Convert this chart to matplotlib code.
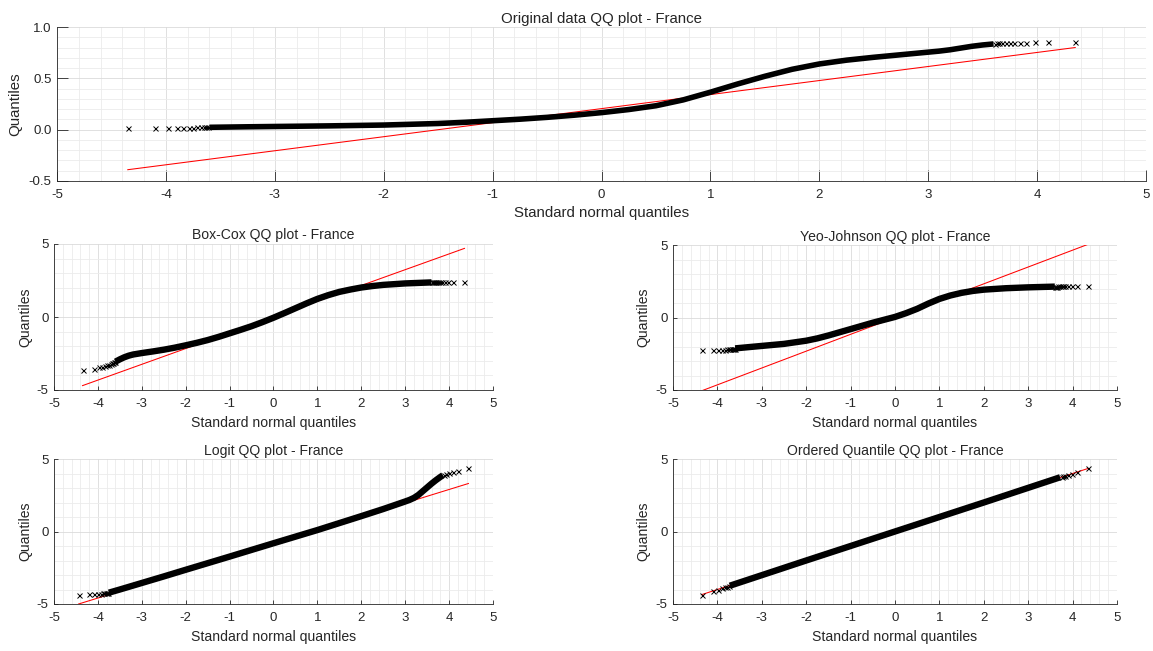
import matplotlib
matplotlib.use("Agg")
import matplotlib.pyplot as plt
from matplotlib.ticker import MultipleLocator, FormatStrFormatter

plt.rcParams["font.family"] = ["Liberation Sans", "DejaVu Sans"]
plt.rcParams["axes.unicode_minus"] = False

COUNTRY = "France"
X_LABEL = "Standard normal quantiles"
Y_LABEL = "Quantiles"

# ---------------- Original data ----------------
orig_body_x = [-3.60, -3.25, -3.00, -2.50, -2.00, -1.50, -1.25, -1.00, -0.75, -0.50,
               -0.25, 0.00, 0.25, 0.50, 0.75, 1.00, 1.25, 1.50, 1.75, 2.00,
               2.25, 2.50, 2.75, 3.00, 3.10, 3.20, 3.30, 3.40, 3.50, 3.60]
orig_body_y = [0.023, 0.028, 0.031, 0.037, 0.045, 0.060, 0.072, 0.087, 0.102, 0.120,
               0.141, 0.166, 0.196, 0.233, 0.290, 0.365, 0.445, 0.520, 0.588, 0.640,
               0.677, 0.705, 0.730, 0.755, 0.765, 0.778, 0.795, 0.812, 0.825, 0.835]
orig_lo_x = [-4.35, -4.10, -3.98, -3.90, -3.84, -3.79, -3.75, -3.71, -3.68, -3.65, -3.63, -3.61]
orig_lo_y = [0.020, 0.020, 0.020, 0.021, 0.021, 0.021, 0.021, 0.022, 0.022, 0.022, 0.022, 0.023]
orig_hi_x = [3.61, 3.63, 3.65, 3.68, 3.71, 3.75, 3.79, 3.84, 3.90, 3.98, 4.10, 4.35]
orig_hi_y = [0.838, 0.840, 0.842, 0.843, 0.845, 0.846, 0.847, 0.848, 0.849, 0.850, 0.851, 0.852]
orig_ref_x = [-4.35, 4.35]
orig_ref_y = [-0.39, 0.80]

# ---------------- Box-Cox ----------------
bc_body_x = [-3.60, -3.50, -3.40, -3.30, -3.20, -3.00, -2.75, -2.50, -2.25, -2.00,
             -1.75, -1.50, -1.25, -1.00, -0.75, -0.50, -0.25, 0.00, 0.25, 0.50,
             0.75, 1.00, 1.25, 1.50, 1.75, 2.00, 2.25, 2.50, 3.00, 3.60]
bc_body_y = [-3.06, -2.90, -2.76, -2.65, -2.57, -2.47, -2.36, -2.24, -2.10, -1.94,
             -1.77, -1.58, -1.36, -1.12, -0.88, -0.63, -0.35, -0.05, 0.27, 0.60,
             0.93, 1.24, 1.50, 1.72, 1.88, 2.02, 2.12, 2.20, 2.30, 2.37]
bc_lo_x = [-4.35, -4.10, -3.98, -3.90, -3.84, -3.79, -3.75, -3.71, -3.68, -3.65, -3.63, -3.61]
bc_lo_y = [-3.61, -3.54, -3.45, -3.40, -3.35, -3.30, -3.26, -3.22, -3.18, -3.14, -3.11, -3.08]
bc_hi_x = [3.61, 3.63, 3.65, 3.68, 3.71, 3.75, 3.79, 3.84, 3.90, 3.98, 4.10, 4.35]
bc_hi_y = [2.37, 2.37, 2.37, 2.37, 2.38, 2.38, 2.38, 2.38, 2.38, 2.38, 2.38, 2.38]
bc_ref_x = [-4.35, 4.35]
bc_ref_y = [-4.70, 4.70]

# ---------------- Yeo-Johnson ----------------
yj_body_x = [-3.60, -3.25, -3.00, -2.50, -2.00, -1.75, -1.50, -1.25, -1.00, -0.75,
             -0.50, -0.25, 0.00, 0.25, 0.50, 0.75, 1.00, 1.25, 1.50, 1.75,
             2.00, 2.50, 3.00, 3.60]
yj_body_y = [-2.13, -2.03, -1.96, -1.82, -1.60, -1.44, -1.24, -1.02, -0.80, -0.58,
             -0.36, -0.16, 0.04, 0.30, 0.60, 0.96, 1.28, 1.52, 1.70, 1.83,
             1.92, 2.02, 2.08, 2.13]
yj_lo_x = [-4.35, -4.10, -3.98, -3.90, -3.84, -3.79, -3.75, -3.71, -3.68, -3.65, -3.63, -3.61]
yj_lo_y = [-2.24, -2.24, -2.23, -2.22, -2.21, -2.20, -2.19, -2.18, -2.17, -2.16, -2.15, -2.14]
yj_hi_x = [3.61, 3.63, 3.65, 3.68, 3.71, 3.75, 3.79, 3.84, 3.90, 3.98, 4.10, 4.35]
yj_hi_y = [2.13, 2.13, 2.13, 2.14, 2.14, 2.14, 2.14, 2.14, 2.15, 2.15, 2.15, 2.15]
yj_ref_x = [-4.35, 4.35]
yj_ref_y = [-5.05, 5.05]

# ---------------- Logit ----------------
lg_body_x = [-3.75, -3.50, -3.00, -2.50, -2.00, -1.00, 0.00, 1.00, 2.00, 2.50,
             2.75, 3.00, 3.10, 3.20, 3.30, 3.40, 3.50, 3.60, 3.70, 3.80, 3.86]
lg_body_y = [-4.22, -4.00, -3.55, -3.10, -2.64, -1.73, -0.81, 0.10, 1.06, 1.55,
             1.81, 2.07, 2.18, 2.32, 2.52, 2.78, 3.04, 3.30, 3.54, 3.76, 3.88]
lg_lo_x = [-4.44, -4.20, -4.08, -4.00, -3.94, -3.89, -3.85, -3.82, -3.79, -3.76]
lg_lo_y = [-4.38, -4.34, -4.31, -4.29, -4.28, -4.27, -4.26, -4.25, -4.24, -4.23]
lg_hi_x = [3.89, 3.94, 4.00, 4.08, 4.20, 4.44]
lg_hi_y = [3.93, 4.00, 4.04, 4.10, 4.18, 4.41]
lg_ref_x = [-4.44, 4.44]
lg_ref_y = [-5.00, 3.31]

# ---------------- Ordered Quantile ----------------
oq_body_x = [-3.72, -2.00, 0.00, 2.00, 3.72]
oq_body_y = [-3.74, -2.00, 0.00, 2.00, 3.74]
oq_lo_x = [-4.35, -4.10, -3.98, -3.90, -3.84, -3.79, -3.75]
oq_lo_y = [-4.40, -4.12, -4.00, -3.92, -3.86, -3.81, -3.77]
oq_hi_x = [3.75, 3.79, 3.84, 3.90, 3.98, 4.10, 4.35]
oq_hi_y = [3.76, 3.80, 3.85, 3.91, 3.99, 4.11, 4.38]
oq_ref_x = [-4.35, 4.35]
oq_ref_y = [-4.35, 4.35]

TEXT = "#262626"
W, H = 1153, 651
fig = plt.figure(figsize=(W / 100, H / 100), dpi=100)


def make_axes(left, right, top, bottom):
    return fig.add_axes([left / W, 1 - bottom / H, (right - left) / W, (bottom - top) / H])


def draw_panel(ax, box, title, body, lo, hi, ref, ylim, ymajor, yminor,
               tick_len, fs_label, fs_tick, band_lw, yfmt=None, ylab_px=22, xlab_px=26):
    left, right, top, bottom = box
    w_px, h_px = right - left, bottom - top

    # reference line sits under the sample quantiles
    ax.plot(ref[0], ref[1], color="#ff0000", lw=0.75, zorder=2)
    ax.plot(body[0], body[1], color="black", lw=band_lw, solid_capstyle="butt",
            solid_joinstyle="round", zorder=3)
    for xs, ys in (lo, hi):
        ax.plot(xs, ys, ls="none", marker="x", ms=3.6, mew=0.7, color="black", zorder=3)

    ax.set_xlim(-5, 5)
    ax.set_ylim(*ylim)
    ax.xaxis.set_major_locator(MultipleLocator(1))
    ax.xaxis.set_minor_locator(MultipleLocator(0.2))
    ax.yaxis.set_major_locator(MultipleLocator(ymajor))
    ax.yaxis.set_minor_locator(MultipleLocator(yminor))
    if yfmt:
        ax.yaxis.set_major_formatter(FormatStrFormatter(yfmt))

    ax.set_axisbelow(True)
    ax.grid(which="major", color="#dadada", lw=0.6)
    ax.grid(which="minor", color="#ebebeb", lw=0.6)

    for s in ("top", "right"):
        ax.spines[s].set_visible(False)
    for s in ("left", "bottom"):
        ax.spines[s].set_color(TEXT)
        ax.spines[s].set_linewidth(0.6)

    ax.tick_params(which="major", direction="in", length=tick_len, width=0.6,
                   color=TEXT, labelcolor=TEXT, labelsize=fs_tick)
    ax.tick_params(axis="x", which="major", pad=6.0)
    ax.tick_params(axis="y", which="major", pad=4.0)
    ax.tick_params(which="minor", length=0)

    ax.set_xlabel(X_LABEL, fontsize=fs_label, color=TEXT)
    ax.set_ylabel(Y_LABEL, fontsize=fs_label, color=TEXT)
    ax.xaxis.set_label_coords(0.5, -xlab_px / h_px)
    ax.yaxis.set_label_coords(-ylab_px / w_px, 0.5)
    ax.text(0.5, 1 + 4.5 / h_px, title, transform=ax.transAxes, ha="center",
            va="baseline", fontsize=fs_label, color=TEXT)


panels = [
    ((57, 1146, 27, 181), "Original data QQ plot - " + COUNTRY,
     (orig_body_x, orig_body_y), (orig_lo_x, orig_lo_y), (orig_hi_x, orig_hi_y),
     (orig_ref_x, orig_ref_y), (-0.5, 1.0), 0.5, 0.1, 7.9, 10.8, 4.0, "%.1f", 35, 25),
    ((54, 493, 244, 390), "Box-Cox QQ plot - " + COUNTRY,
     (bc_body_x, bc_body_y), (bc_lo_x, bc_lo_y), (bc_hi_x, bc_hi_y),
     (bc_ref_x, bc_ref_y), (-5, 5), 5, 1, 3.2, 10.1, 4.6, None, 22, 26),
    ((673, 1117, 245, 390), "Yeo-Johnson QQ plot - " + COUNTRY,
     (yj_body_x, yj_body_y), (yj_lo_x, yj_lo_y), (yj_hi_x, yj_hi_y),
     (yj_ref_x, yj_ref_y), (-5, 5), 5, 1, 3.2, 10.1, 4.6, None, 23, 26),
    ((54, 493, 459, 604), "Logit QQ plot - " + COUNTRY,
     (lg_body_x, lg_body_y), (lg_lo_x, lg_lo_y), (lg_hi_x, lg_hi_y),
     (lg_ref_x, lg_ref_y), (-5, 5), 5, 1, 3.2, 10.1, 4.6, None, 22, 26),
    ((673, 1117, 459, 604), "Ordered Quantile QQ plot - " + COUNTRY,
     (oq_body_x, oq_body_y), (oq_lo_x, oq_lo_y), (oq_hi_x, oq_hi_y),
     (oq_ref_x, oq_ref_y), (-5, 5), 5, 1, 3.2, 10.1, 4.6, None, 23, 26),
]

for box, title, body, lo, hi, ref, ylim, ymaj, ymin, tl, fsl, blw, yfmt, ylp, xlp in panels:
    ax = make_axes(*box)
    draw_panel(ax, box, title, body, lo, hi, ref, ylim, ymaj, ymin, tl, fsl, 9.5, blw,
               yfmt=yfmt, ylab_px=ylp, xlab_px=xlp)

fig.savefig("out.png", dpi=100, facecolor="white")
